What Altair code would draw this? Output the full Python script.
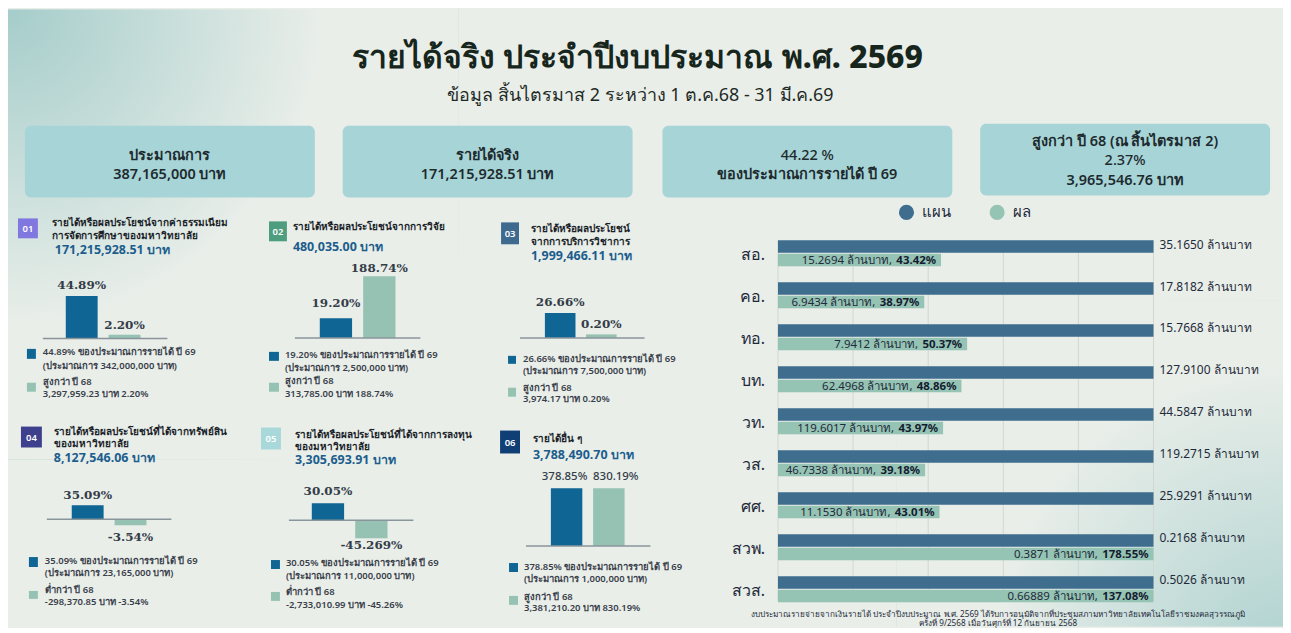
import altair as alt
import pandas as pd

# ---------------- data ----------------
TITLE = "รายได้จริง ประจำปีงบประมาณ พ.ศ. 2569"
SUBTITLE = "ข้อมูล สิ้นไตรมาส 2 ระหว่าง 1 ต.ค.68 - 31 มี.ค.69"

card_lines = [
    ["ประมาณการ", "387,165,000 บาท"],
    ["รายได้จริง", "171,215,928.51 บาท"],
    ["44.22 %", "ของประมาณการรายได้ ปี 69"],
    ["สูงกว่า ปี 68 (ณ สิ้นไตรมาส 2)", "2.37%", "3,965,546.76 บาท"],
]

panel_ids = ["01", "02", "03", "04", "05", "06"]
panel_titles = [
    ["รายได้หรือผลประโยชน์จากค่าธรรมเนียม", "การจัดการศึกษาของมหาวิทยาลัย"],
    ["รายได้หรือผลประโยชน์จากการวิจัย"],
    ["รายได้หรือผลประโยชน์", "จากการบริการวิชาการ"],
    ["รายได้หรือผลประโยชน์ที่ได้จากทรัพย์สิน", "ของมหาวิทยาลัย"],
    ["รายได้หรือผลประโยชน์ที่ได้จากการลงทุน", "ของมหาวิทยาลัย"],
    ["รายได้อื่น ๆ"],
]
panel_amounts = ["171,215,928.51 บาท", "480,035.00 บาท", "1,999,466.11 บาท",
                 "8,127,546.06 บาท", "3,305,693.91 บาท", "3,788,490.70 บาท"]
pct_of_plan = [44.89, 19.20, 26.66, 35.09, 30.05, 378.85]
pct_vs_68 = [2.20, 188.74, 0.20, -3.54, -45.269, 830.19]
bar_text_a = ["44.89%", "19.20%", "26.66%", "35.09%", "30.05%", "378.85%"]
bar_text_b = ["2.20%", "188.74%", "0.20%", "-3.54%", "-45.269%", "830.19%"]
plan_budgets = ["342,000,000", "2,500,000", "7,500,000", "23,165,000", "11,000,000", "1,000,000"]
cmp_words = ["สูงกว่า ปี 68", "สูงกว่า ปี 68", "สูงกว่า ปี 68",
             "ต่ำกว่า ปี 68", "ต่ำกว่า ปี 68", "สูงกว่า ปี 68"]
cmp_amounts = ["3,297,959.23 บาท 2.20%", "313,785.00 บาท 188.74%", "3,974.17 บาท 0.20%",
               "-298,370.85 บาท -3.54%", "-2,733,010.99 บาท -45.26%", "3,381,210.20 บาท 830.19%"]

units = ["สอ.", "คอ.", "ทอ.", "บท.", "วท.", "วส.", "ศศ.", "สวพ.", "สวส."]
plan_m = ["35.1650", "17.8182", "15.7668", "127.9100", "44.5847", "119.2715", "25.9291", "0.2168", "0.5026"]
actual_m = ["15.2694", "6.9434", "7.9412", "62.4968", "119.6017", "46.7338", "11.1530", "0.3871", "0.66889"]
actual_pct = [43.42, 38.97, 50.37, 48.86, 43.97, 39.18, 43.01, 178.55, 137.08]
grid_ticks = [0, 20, 40, 60, 80, 100]
series = ["แผน", "ผล"]
FOOTNOTE = [
    "งบประมาณรายจ่ายจากเงินรายได้ ประจำปีงบประมาณ พ.ศ. 2569 ได้รับการอนุมัติจากที่ประชุมสภามหาวิทยาลัยเทคโนโลยีราชมงคลสุวรรณภูมิ",
    "ครั้งที่ 9/2568 เมื่อวันศุกร์ที่ 12 กันยายน 2568",
]

# ---------------- style / layout ----------------
OX, OY = 8, 8
W, H = 1280, 620
BG = "#e9eee9"
FONT = "Noto Sans, sans-serif"
SERIF = "DejaVu Serif"
DARK = "#0f6593"
LIGHT = "#95c2b3"
PLAN_C = "#3e6d8e"
ACT_C = "#95c3b4"
CARD_C = "#a7d4d6"
TXT = "#1d2a2e"


def px(v):
    return v - OX


def py(v):
    return v - OY


ONE = pd.DataFrame({"k": [0]})


def text(s, x, y, size=12, weight="normal", color=TXT, align="left", font=FONT, **kw):
    return alt.Chart(ONE).mark_text(
        text=s, fontSize=size, fontWeight=weight, color=color, align=align,
        baseline="middle", font=font, **kw
    ).encode(x=alt.value(px(x)), y=alt.value(py(y)))


def box(x0, y0, x1, y1, fill, radius=0, **kw):
    return alt.Chart(ONE).mark_rect(fill=fill, cornerRadius=radius, **kw).encode(
        x=alt.value(px(x0)), x2=alt.value(px(x1)), y=alt.value(py(y0)), y2=alt.value(py(y1))
    )


layers = []

# background corner tints (radial fades that end well inside their boxes)
layers.append(box(8, 8, 460, 460, {
    "gradient": "radial", "x1": 0, "y1": 0, "r1": 0, "x2": 0, "y2": 0, "r2": 0.7,
    "stops": [{"offset": 0, "color": "#a5cdcb"}, {"offset": 1, "color": BG}]}))
layers.append(box(900, 300, 1288, 628, {
    "gradient": "radial", "x1": 1, "y1": 1, "r1": 0, "x2": 1, "y2": 1, "r2": 0.75,
    "stops": [{"offset": 0, "color": "#aed2d0"}, {"offset": 1, "color": BG}]}))

# title
layers.append(text(TITLE, 640, 57, size=32, weight=800, color="#17261d", align="center"))
layers.append(text(SUBTITLE, 643, 95, size=18, color="#1e2a26", align="center"))

# cards
card_x = [(25, 316), (344, 635), (665, 956), (984, 1275)]
card_y = [(125, 197), (125, 197), (125, 197), (123, 195)]
card_text_y = [[155, 174], [155, 174], [155, 174], [141, 160, 180]]
card_weights = [[600, 600], [600, 600], [500, 600], [600, 500, 600]]
for (x0, x1), (y0, y1), lines, ys, wts in zip(card_x, card_y, card_lines, card_text_y, card_weights):
    layers.append(box(x0, y0, x1, y1, CARD_C, radius=6))
    for s, yy, wt in zip(lines, ys, wts):
        layers.append(text(s, (x0 + x1) / 2, yy, size=14.5, weight=wt, align="center"))

# ---------------- mini panels ----------------
P = [
    dict(badge=(18, 218, 38, 238), bc="#8178df", tx=52, ty=[223, 236], ay=250,
         bars=(66, 141), line=(43, 168), st=dict(type="pow", exponent=0.8),
         dom=[0, 44.89], rng=[338.5, 296], dya=-11, dyb=-10, dxa=0, dxb=0,
         sqx=(27, 36), sq1=(349, 359), sq2=(383, 392), lx=43, ly=[352, 366, 382, 394]),
    dict(badge=(270, 221, 288, 241), bc="#4e9d7f", tx=294, ty=[227], ay=247,
         bars=(321, 397), line=(296, 422), st=dict(type="sqrt"),
         dom=[0, 188.74], rng=[338, 276], dya=-15, dyb=-8, dxa=0, dxb=0,
         sqx=(270, 280), sq1=(352, 361), sq2=(383, 392), lx=286, ly=[355, 368, 381, 394]),
    dict(badge=(503, 222, 521, 244), bc="#3e6a8f", tx=533, ty=[229, 242], ay=256,
         bars=(547, 619), line=(522, 647), st=dict(type="pow", exponent=0.4),
         dom=[0, 26.66], rng=[338, 313], dya=-11, dyb=-10, dxa=0, dxb=0,
         sqx=(510, 518), sq1=(356, 364), sq2=(388, 397), lx=525, ly=[359, 371, 388, 399]),
    dict(badge=(21, 427, 42, 448), bc="#3e3f8d", tx=54, ty=[432, 445], ay=459,
         bars=(72, 147), line=(47, 172), st=dict(type="pow", exponent=0.37),
         dom=[-3.54, 35.09], rng=[526, 506], dya=-10, dyb=12, dxa=0, dxb=0,
         sqx=(29, 38), sq1=(558, 568), sq2=(592, 600), lx=45, ly=[562, 574, 591, 603]),
    dict(badge=(262, 428, 282, 450), bc="#a9d8db", tx=296, ty=[435, 448], ay=461,
         bars=(313, 389), line=(290, 415), st=dict(type="pow", exponent=0.14),
         dom=[-45.269, 30.05], rng=[539, 504], dya=-12, dyb=7, dxa=0, dxb=0,
         sqx=(272, 281), sq1=(561, 570), sq2=(593, 602), lx=287, ly=[564, 577, 593, 606]),
    dict(badge=(502, 431, 522, 454), bc="#103f76", tx=535, ty=[439], ay=456,
         bars=(553, 627), line=(528, 653), st=dict(type="linear"),
         dom=[0, 378.85], rng=[547, 489], dya=-11, dyb=-11, dxa=-2, dxb=7,
         sqx=(511, 520), sq1=(564, 573), sq2=(597, 606), lx=526, ly=[568, 580, 598, 609]),
]

for i, L in enumerate(P):
    x0, y0, x1, y1 = L["badge"]
    layers.append(box(x0, y0, x1, y1, L["bc"]))
    layers.append(text(panel_ids[i], (x0 + x1) / 2, (y0 + y1) / 2 + 0.5, size=9.5, weight=600,
                       color="white", align="center"))
    for s, yy in zip(panel_titles[i], L["ty"]):
        layers.append(text(s, L["tx"], yy, size=10, weight="bold", color="#1b1f29"))
    layers.append(text(panel_amounts[i], L["tx"] + (3 if i == 0 else 0), L["ay"], size=12.5,
                       weight="bold", color="#1c5d8d"))
    # legend squares + text
    sx0, sx1 = L["sqx"]
    layers.append(box(sx0, L["sq1"][0], sx1, L["sq1"][1], DARK))
    layers.append(box(sx0, L["sq2"][0], sx1, L["sq2"][1], LIGHT))
    leg = [f"{bar_text_a[i]} ของประมาณการรายได้ ปี 69", f"(ประมาณการ {plan_budgets[i]} บาท)",
           cmp_words[i], cmp_amounts[i]]
    for s, yy in zip(leg, L["ly"]):
        layers.append(text(s, L["lx"], yy, size=9.5, weight=600, color="#3a3f4b"))

    # bars through per-panel scales
    df = pd.DataFrame({"kind": ["a", "b"], "v": [pct_of_plan[i], pct_vs_68[i]],
                       "lab": [bar_text_a[i], bar_text_b[i]]})
    xs = alt.Scale(domain=["a", "b"], range=[px(L["bars"][0]), px(L["bars"][1])],
                   paddingInner=0.256, paddingOuter=0)
    ys = alt.Scale(domain=L["dom"], range=[py(L["rng"][0]), py(L["rng"][1])],
                   clamp=True, nice=False, zero=False, **L["st"])
    base = alt.Chart(df).encode(x=alt.X("kind:N", scale=xs, axis=None),
                                y=alt.Y("v:Q", scale=ys, axis=None))
    bars = base.mark_bar().encode(
        y2=alt.datum(0),
        color=alt.Color("kind:N", scale=alt.Scale(domain=["a", "b"], range=[DARK, LIGHT]), legend=None))
    if i < 5:
        lab_style = dict(font=SERIF, fontWeight=600, fontSize=12, color="#343c48")
    else:
        lab_style = dict(font=FONT, fontWeight=500, fontSize=11.5, color="#343c48")
    la = base.transform_filter(alt.datum.kind == "a").mark_text(
        baseline="middle", dy=L["dya"], dx=L["dxa"], **lab_style).encode(text="lab:N")
    lb = base.transform_filter(alt.datum.kind == "b").mark_text(
        baseline="middle", dy=L["dyb"], dx=L["dxb"], **lab_style).encode(text="lab:N")
    rule = alt.Chart(ONE).mark_rule(color="#8a959b", strokeWidth=1.5).encode(
        y=alt.datum(0), x=alt.value(px(L["line"][0])), x2=alt.value(px(L["line"][1])))
    layers.append(alt.layer(bars, la, lb, rule))

# ---------------- right chart ----------------
rows = []
for u, pm, am, q in zip(units, plan_m, actual_m, actual_pct):
    rows.append(dict(unit=u, series=series[0], v=100.0, lab=f"{pm} ล้านบาท", bold=""))
    rows.append(dict(unit=u, series=series[1], v=q, lab=f"{am} ล้านบาท,", bold=f"{q:.2f}%"))
rdf = pd.DataFrame(rows)

XS = alt.Scale(domain=[0, 100], range=[px(781), px(1158)], clamp=True, nice=False, zero=False)
YS = alt.Scale(domain=units, range=[py(240), py(603.3)], paddingInner=0.383, paddingOuter=0)
YO = alt.Scale(domain=series, paddingInner=0.08)

grid = alt.Chart(pd.DataFrame({"g": grid_ticks})).mark_rule(color="#d2d7d1", strokeWidth=1).encode(
    x=alt.X("g:Q", scale=XS, axis=None), y=alt.value(py(240)), y2=alt.value(py(602)))
rbase = alt.Chart(rdf).encode(
    y=alt.Y("unit:N", scale=YS, axis=None, sort=units),
    yOffset=alt.YOffset("series:N", scale=YO, sort=series))
rbars = rbase.mark_bar().encode(
    x=alt.X("v:Q", scale=XS, axis=None, stack=None),
    color=alt.Color("series:N", sort=series,
                    scale=alt.Scale(domain=series, range=[PLAN_C, ACT_C]),
                    legend=alt.Legend(orient="none", legendX=px(902), legendY=py(204),
                                      direction="horizontal", title=None, symbolType="circle",
                                      symbolSize=230, labelFontSize=15, labelFont=FONT,
                                      labelColor="#1f2a3a", columnPadding=38, labelOffset=8,
                                      symbolStrokeWidth=0)))
plan_lab = rbase.transform_filter(alt.datum.series == series[0]).mark_text(
    align="left", baseline="middle", fontSize=12, font=FONT, color="#1f2a3a", dy=-2).encode(
    x=alt.value(px(1164)), text="lab:N")
act_bold = rbase.transform_filter(alt.datum.series == series[1]).mark_text(
    align="right", baseline="middle", fontSize=11.5, font=FONT, fontWeight="bold",
    color="#141c30", dx=-5, dy=1).encode(x=alt.X("v:Q", scale=XS, axis=None), text="bold:N")
act_norm = rbase.transform_filter(alt.datum.series == series[1]).transform_calculate(
    xn="min(datum.v, 100) - (9 + length(datum.bold) * 6.7) / 3.77").mark_text(
    align="right", baseline="middle", fontSize=11.5, font=FONT, color="#1f2a3a", dy=1).encode(
    x=alt.X("xn:Q", scale=XS, axis=None), text="lab:N")
cat_lab = alt.Chart(pd.DataFrame({"unit": units})).mark_text(
    align="right", baseline="middle", fontSize=16, font=FONT, color="#1f2a3a", dy=2).encode(
    x=alt.value(px(768)), y=alt.Y("unit:N", scale=YS, axis=None, sort=units), text="unit:N")
layers.append(alt.layer(grid, rbars, plan_lab, act_bold, act_norm, cat_lab))

# footnote
layers.append(text(FOOTNOTE[0], 1002, 616, size=8.2, color="#1f2a3a", align="center"))
layers.append(text(FOOTNOTE[1], 1002, 625, size=8.2, color="#1f2a3a", align="center"))

chart = alt.layer(*layers).resolve_scale(
    x="independent", y="independent", color="independent"
).properties(
    width=W, height=H, padding=0, autosize=alt.AutoSizeParams(type="none"), background=BG
).configure_view(stroke=None)

chart.save("out.html", embed_options={"renderer": "svg", "actions": False})
